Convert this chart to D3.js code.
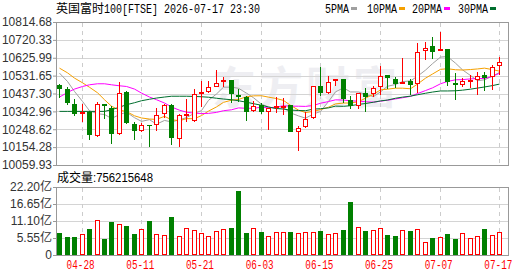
<!DOCTYPE html>
<html><head><meta charset="utf-8">
<script src="https://cdn.jsdelivr.net/npm/d3@7"></script>
<style>html,body{margin:0;padding:0;background:#fff;overflow:hidden}</style>
</head><body>
<svg id="c" width="530" height="276"></svg>
<script>
const dates = ["04-23","04-24","04-27","04-28","04-29","04-30","05-01","05-05","05-06","05-07","05-08","05-11","05-12","05-13","05-14","05-15","05-18","05-19","05-20","05-21","05-22","05-26","05-27","05-28","05-29","06-01","06-02","06-03","06-04","06-05","06-08","06-09","06-10","06-11","06-12","06-15","06-16","06-17","06-18","06-19","06-22","06-23","06-24","06-25","06-26","06-29","06-30","07-01","07-02","07-03","07-06","07-07","07-08","07-09","07-10","07-13","07-14","07-15","07-16","07-17"];
const opens = [10483.3,10462.3,10383.4,10329.2,10337.6,10215.0,10381.8,10362.3,10224.0,10442.8,10278.2,10239.8,10272.9,10271.3,10329.2,10376.5,10197.7,10321.8,10293.9,10439.6,10446.5,10471.2,10495.4,10509.6,10430.7,10417.6,10346.5,10376.5,10341.3,10365.0,10367.6,10375.5,10233.5,10258.7,10308.1,10478.0,10438.6,10500.7,10513.8,10403.3,10372.8,10440.2,10436.0,10471.2,10535.9,10513.3,10492.2,10500.7,10487.0,10662.1,10688.4,10662.1,10672.7,10492.2,10479.6,10505.9,10509.6,10535.9,10527.0,10581.7];
const closes = [10462.3,10387.0,10327.1,10337.6,10216.6,10381.8,10369.2,10221.9,10439.6,10279.7,10237.7,10271.3,10267.6,10321.8,10376.5,10200.8,10323.9,10328.1,10436.0,10446.5,10471.2,10492.2,10508.0,10434.4,10418.6,10342.3,10370.2,10337.6,10362.3,10369.2,10372.8,10233.5,10257.1,10303.4,10478.0,10438.6,10496.5,10513.3,10408.1,10370.2,10439.6,10421.2,10465.9,10532.2,10518.5,10487.0,10497.5,10483.3,10655.3,10679.5,10658.5,10671.1,10497.5,10479.6,10504.3,10509.6,10532.2,10521.7,10576.4,10602.7];
const highs = [10485.9,10469.1,10408.1,10383.4,10346.5,10390.2,10383.4,10369.2,10495.4,10448.1,10287.1,10281.8,10272.9,10360.7,10383.4,10379.7,10330.8,10408.1,10462.3,10502.8,10505.9,10562.2,10523.8,10509.6,10462.3,10425.4,10399.1,10387.0,10362.3,10418.6,10413.3,10378.1,10265.0,10341.3,10478.0,10578.0,10530.6,10513.3,10513.8,10421.8,10439.6,10467.5,10474.4,10584.8,10535.9,10527.0,10622.7,10514.9,10702.6,10711.1,10737.4,10763.7,10672.7,10544.8,10518.5,10535.9,10553.3,10553.3,10588.5,10630.6];
const lows = [10414.9,10374.4,10320.2,10288.7,10190.3,10206.1,10302.9,10171.4,10220.3,10278.2,10190.3,10232.4,10153.5,10241.3,10309.7,10166.1,10153.5,10286.1,10285.0,10366.0,10439.6,10471.2,10471.2,10388.6,10392.8,10290.3,10338.7,10329.2,10246.6,10333.4,10325.5,10233.5,10136.1,10255.5,10304.5,10425.4,10436.0,10475.4,10388.6,10354.4,10357.1,10338.7,10417.6,10428.1,10462.3,10465.9,10492.2,10430.7,10439.6,10614.8,10620.1,10662.1,10474.4,10402.8,10469.1,10465.9,10427.0,10448.1,10457.0,10535.9];
const volumes = [7.18,5.88,5.88,6.75,8.49,11.3,5.22,10.77,10.0,9.47,6.86,8.49,11.1,6.75,6.42,12.4,6.09,8.7,8.05,7.08,6.09,7.73,8.38,8.81,20.9,7.18,8.7,7.5,6.2,7.4,7.4,7.5,7.08,7.4,7.4,7.84,6.75,7.08,8.16,17.3,9.04,7.84,8.05,8.7,6.53,6.2,8.05,7.84,8.38,4.14,5.55,5.88,6.86,5.22,7.08,5.55,6.2,8.49,6.53,7.56];
const ma5 = [10544.8,10500.7,10448.1,10395.5,10346.0,10330.2,10326.6,10305.5,10326.0,10338.7,10309.7,10290.3,10299.2,10275.5,10295.0,10287.6,10298.2,10310.3,10332.9,10347.1,10401.2,10434.9,10470.7,10470.7,10464.9,10439.1,10414.9,10380.7,10366.0,10356.5,10362.3,10335.0,10319.2,10307.1,10329.2,10342.3,10394.9,10446.0,10467.0,10445.4,10445.4,10430.7,10421.2,10446.0,10475.4,10484.9,10500.1,10503.8,10528.5,10560.6,10594.8,10629.5,10632.2,10597.4,10562.2,10532.2,10504.9,10509.6,10529.1,10548.5];
const ma10 = [10571.1,10546.4,10518.5,10493.8,10470.2,10441.2,10404.4,10370.2,10349.2,10342.3,10319.7,10308.1,10302.4,10300.8,10316.6,10298.7,10293.9,10304.5,10304.5,10320.8,10344.4,10366.5,10390.7,10401.8,10406.0,10420.2,10424.9,10425.4,10418.1,10410.7,10400.7,10374.9,10349.7,10336.6,10342.9,10352.3,10365.0,10382.3,10387.0,10387.0,10393.9,10412.8,10433.3,10456.5,10460.2,10465.4,10465.4,10462.3,10487.0,10518.0,10540.1,10564.8,10568.0,10562.7,10561.2,10563.8,10566.9,10571.1,10563.3,10555.4];
const ma20 = [10418.6,10442.8,10460.7,10474.4,10483.3,10488.6,10488.6,10483.3,10478.0,10474.4,10460.7,10439.6,10418.6,10404.4,10387.0,10366.0,10349.2,10338.7,10333.4,10331.8,10332.3,10337.6,10346.5,10351.3,10361.3,10359.2,10359.2,10365.0,10361.3,10366.0,10372.3,10370.7,10370.2,10369.2,10374.4,10386.0,10394.9,10403.9,10402.8,10398.6,10397.0,10393.9,10391.8,10396.5,10401.8,10408.6,10414.9,10422.3,10437.0,10452.8,10467.0,10488.6,10500.7,10509.6,10510.7,10514.3,10516.4,10516.4,10528.0,10543.8];
const ma30 = [10342.9,10342.9,10342.9,10342.9,10342.9,10342.9,10342.9,10351.8,10365.0,10378.1,10388.6,10399.1,10407.0,10413.3,10418.6,10422.8,10422.8,10422.8,10421.8,10420.2,10417.6,10412.3,10408.1,10404.4,10399.1,10391.3,10383.4,10375.5,10366.0,10358.1,10355.0,10349.7,10347.6,10346.5,10355.0,10357.1,10361.3,10370.7,10369.7,10372.8,10379.7,10384.4,10391.3,10398.1,10402.8,10412.3,10418.1,10423.3,10430.7,10438.6,10444.9,10450.7,10450.7,10451.7,10454.9,10460.2,10465.9,10471.7,10479.1,10487.0];
const priceTicks = [10059.93,10154.28,10248.62,10342.96,10437.30,10531.65,10625.99,10720.33,10814.68];
const volTicks = [0,5.55,11.10,16.65,22.20];
const volTickLabels = ["0","5.55亿","11.10亿","16.65亿","22.20亿"];
const dateTicks = ["04-28","05-11","05-21","06-03","06-15","06-25","07-07","07-17"];
const maNames = ["5PMA","10PMA","20PMA","30PMA"];
const maColors = ["#a0a0a0","#f5a000","#ff00ff","#006e2e"];
const titleCn = "英国富时", titleRest = "100[FTSE] 2026-07-17 23:30";
const volLabel = "成交量", volValue = ":756215648";

const RED = "#ff0000", GREEN = "#008000", FRAME = "#999999", GRID = "#d4d4d4";
const L = 56, R = 508, T = 22, B = 165, VT = 187, VB = 255;
const svg = d3.select("#c");
const x = d3.scaleBand().domain(dates).range([L, 503.6]);
const cx = d => Math.floor(x(d) + x.bandwidth() / 2);
const y = d3.scaleLinear().domain([priceTicks[0], priceTicks[priceTicks.length - 1]]).range([B, T]);
const yv = d3.scaleLinear().domain([0, 22.2]).range([VB, VT]);
const CN = "'Noto Sans CJK SC', sans-serif";
const SANS = "'Liberation Sans', Arial, 'Noto Sans CJK SC', sans-serif";
const MONO = "'Liberation Mono', 'DejaVu Sans Mono', monospace";

// title
svg.append("text").attr("x", 56).attr("y", 13).attr("font-family", CN).attr("font-size", 12).attr("fill", "#000").text(titleCn);
svg.append("text").attr("x", 104).attr("y", 13).attr("font-family", MONO).attr("font-size", 12)
  .attr("textLength", titleRest.length * 6).attr("lengthAdjust", "spacingAndGlyphs").attr("fill", "#000").text(titleRest);

// legend
const legX = [325, 367, 412, 458];
maNames.forEach((n, i) => {
  svg.append("text").attr("x", legX[i]).attr("y", 12.5).attr("font-family", MONO).attr("font-size", 12)
    .attr("textLength", n.length * 6).attr("lengthAdjust", "spacingAndGlyphs").attr("fill", "#000").text(n);
  svg.append("rect").attr("x", legX[i] + n.length * 6 + 2).attr("y", 7).attr("width", 6).attr("height", 3).attr("fill", maColors[i]);
});

// watermark
svg.append("text").attr("x", 212).attr("y", 104).attr("font-family", CN).attr("font-size", 44).attr("font-weight", 700)
  .attr("fill", "#eeeef2").attr("letter-spacing", 3).text("东方财富");

// horizontal grid main
svg.append("g").selectAll("line").data(priceTicks.slice(1, -1)).join("line")
  .attr("x1", L).attr("x2", R).attr("y1", d => Math.round(y(d)) + 0.5).attr("y2", d => Math.round(y(d)) + 0.5)
  .attr("stroke", GRID);
svg.append("g").selectAll("line").data(volTicks.slice(1, -1)).join("line")
  .attr("x1", L).attr("x2", R).attr("y1", d => Math.round(yv(d)) + 0.5).attr("y2", d => Math.round(yv(d)) + 0.5)
  .attr("stroke", GRID);
// vertical dashed grid
[[T, B], [VT, VB]].forEach(([a, b]) => {
  svg.append("g").selectAll("line").data(dateTicks).join("line")
    .attr("x1", d => cx(d) + 0.5).attr("x2", d => cx(d) + 0.5).attr("y1", a + 1).attr("y2", b)
    .attr("stroke", "#cccccc").attr("stroke-dasharray", "4,4");
});

// MA lines
[ma5, ma10, ma20, ma30].forEach((arr, k) => {
  svg.append("path").datum(arr).attr("fill", "none").attr("stroke", maColors[k]).attr("stroke-width", 1)
    .attr("d", d3.line().x((v, i) => cx(dates[i]) + 0.5).y(v => y(v)));
});

// candles
const cg = svg.append("g").attr("shape-rendering", "crispEdges");
dates.forEach((d, i) => {
  const c = cx(d), o = opens[i], cl = closes[i];
  const up = cl >= o, col = up ? RED : GREEN;
  const yh = Math.round(y(highs[i])), yl = Math.round(y(lows[i]));
  const yt = Math.round(y(Math.max(o, cl))), yb = Math.round(y(Math.min(o, cl)));
  cg.append("line").attr("x1", c + 0.5).attr("x2", c + 0.5).attr("y1", yh).attr("y2", yl).attr("stroke", col);
  if (up) {
    cg.append("rect").attr("x", c - 1.5).attr("y", yt + 0.5).attr("width", 4).attr("height", Math.max(yb - yt - 1, 0.5))
      .attr("fill", "#fff").attr("stroke", col);
  } else {
    cg.append("rect").attr("x", c - 2).attr("y", yt).attr("width", 5).attr("height", Math.max(yb - yt, 1)).attr("fill", col);
  }
});

// volume bars
const vg = svg.append("g").attr("shape-rendering", "crispEdges");
dates.forEach((d, i) => {
  const c = cx(d), up = closes[i] >= opens[i], top = Math.round(yv(volumes[i]));
  if (up) {
    vg.append("rect").attr("x", c - 1.5).attr("y", top + 0.5).attr("width", 4).attr("height", VB - top - 1)
      .attr("fill", "#fff").attr("stroke", RED);
  } else {
    vg.append("rect").attr("x", c - 2).attr("y", top).attr("width", 5).attr("height", VB - top).attr("fill", GREEN);
  }
});

// frames
svg.append("rect").attr("x", L + 0.5).attr("y", T + 0.5).attr("width", R - L).attr("height", B - T)
  .attr("fill", "none").attr("stroke", FRAME);
svg.append("rect").attr("x", L + 0.5).attr("y", VT + 0.5).attr("width", R - L).attr("height", VB - VT)
  .attr("fill", "none").attr("stroke", FRAME);

// axes
function styleAxis(g) {
  g.select(".domain").remove();
  g.selectAll(".tick line").attr("stroke", FRAME);
  g.selectAll(".tick text").attr("font-family", SANS).attr("font-size", 12).attr("fill", "#333");
}
svg.append("g").attr("transform", `translate(${L},0)`)
  .call(d3.axisLeft(y).tickValues(priceTicks).tickFormat(d => d.toFixed(2)).tickSize(3).tickPadding(1))
  .call(styleAxis);
svg.append("g").attr("transform", `translate(${L},0)`)
  .call(d3.axisLeft(yv).tickValues(volTicks).tickFormat((d, i) => volTickLabels[i]).tickSize(3).tickPadding(1))
  .call(styleAxis);
const xa = svg.append("g").attr("transform", `translate(-1.5,${VB + 3})`)
  .call(d3.axisBottom(x).tickValues(dateTicks).tickSize(0).tickPadding(2));
xa.select(".domain").remove();
xa.selectAll(".tick text").attr("font-family", MONO).attr("font-size", 12).attr("fill", RED)
  .attr("textLength", 28).attr("lengthAdjust", "spacingAndGlyphs");

// volume header
svg.append("text").attr("x", 57).attr("y", 182).attr("font-family", CN).attr("font-size", 12).attr("fill", "#000").text(volLabel);
svg.append("text").attr("x", 93).attr("y", 182).attr("font-family", SANS).attr("font-size", 12)
  .attr("textLength", volValue.length * 6).attr("lengthAdjust", "spacingAndGlyphs").attr("fill", "#000").text(volValue);
</script>
</body></html>
